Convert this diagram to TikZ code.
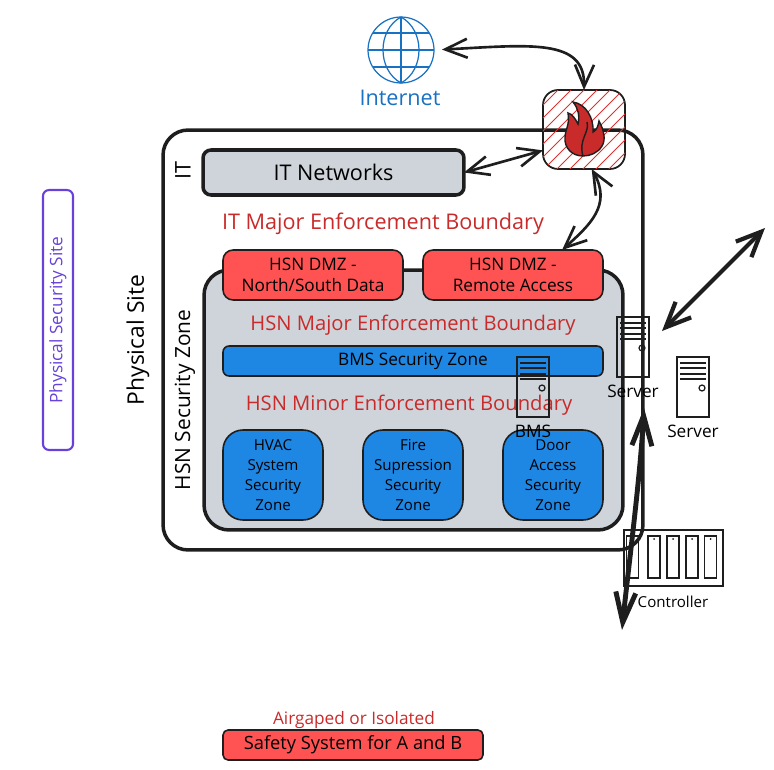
\documentclass[tikz,border=0pt]{standalone}
\usepackage{fontspec}
\setmainfont{Open Sans}
\usetikzlibrary{arrows.meta}
\definecolor{inkdark}{HTML}{1E1E1E}
\definecolor{zonegrey}{HTML}{CED4DA}
\definecolor{dmzred}{HTML}{FF5252}
\definecolor{zoneblue}{HTML}{1E86E3}
\definecolor{textred}{HTML}{C92A2A}
\definecolor{hatchred}{HTML}{E03131}
\definecolor{netblue}{HTML}{1971C2}
\definecolor{sitepurple}{HTML}{6741D9}
\tikzset{
  basebox/.style={draw=inkdark, inner sep=0pt, outer sep=0pt},
  dmzbox/.style={basebox, fill=dmzred, line width=0.9pt, rounded corners=0.2cm,
    minimum width=3.6cm, minimum height=1cm, align=center, widetext},
  bluebox/.style={basebox, fill=zoneblue, line width=0.9pt, rounded corners=0.4cm,
    minimum width=2cm, minimum height=1.8cm, align=center, smalltext},
  smalltext/.style={font=\fontsize{8.6}{11.3}\selectfont, text=black},
  widetext/.style={font=\fontsize{9.8}{11.6}\selectfont, text=black},
  bigtext/.style={font=\fontsize{12.3}{14}\selectfont, text=black},
  boundary/.style={font=\fontsize{11.5}{14}\selectfont, text=textred},
  link/.style={draw=inkdark, line width=1.5pt, {Straight Barb[length=4.4mm,width=3.8mm]}-{Straight Barb[length=4.4mm,width=3.8mm]}},
  wanlink/.style={draw=inkdark, line width=2.4pt, {Straight Barb[length=5mm,width=4.4mm]}-{Straight Barb[length=5mm,width=4.4mm]}},
  trunklink/.style={draw=inkdark, line width=2.8pt, {Straight Barb[length=6mm,width=4mm]}-{Straight Barb[length=6mm,width=4mm]}},
  rackline/.style={draw=inkdark, line width=0.7pt},
}
\begin{document}
\begin{tikzpicture}[x=0.02cm, y=-0.02cm]
  \useasboundingbox (0,0) rectangle (774,770);

  % physical site and zones
  \node[basebox, line width=2pt, rounded corners=0.5cm, minimum width=9.6cm, minimum height=8.4cm] (site) at (403,340) {};
  \node[basebox, fill=zonegrey, line width=2pt, rounded corners=0.16cm, minimum width=5.22cm, minimum height=0.9cm, bigtext] (itnet) at (333.5,172.5) {IT Networks};
  \node[basebox, fill=zonegrey, line width=2pt, rounded corners=0.5cm, minimum width=8.38cm, minimum height=5.2cm] (hsn) at (413.5,400) {};
  \node[dmzbox] (dmza) at (313,275) {HSN DMZ -\\North/South Data};
  \node[dmzbox] (dmzb) at (513,275) {HSN DMZ -\\Remote Access};
  \node[basebox, fill=zoneblue, line width=0.9pt, rounded corners=0.12cm, minimum width=7.6cm, minimum height=0.6cm, widetext] (bms) at (413,361) {BMS Security Zone};
  \node[bluebox] (hvac) at (273,475) {HVAC\\System\\Security\\Zone};
  \node[bluebox] (fire) at (413,475) {Fire\\Supression\\Security\\Zone};
  \node[bluebox] (door) at (553,475) {Door\\Access\\Security\\Zone};

  % zone labels
  \node[bigtext, rotate=90] (itlab) at (183,171) {IT};
  \node[bigtext, rotate=90, font=\fontsize{13}{15}\selectfont] (sitelab) at (138,340) {Physical Site};
  \node[bigtext, rotate=90, font=\fontsize{11.9}{14}\selectfont] (hsnlab) at (185,400) {HSN Security Zone};
  \node[boundary, font=\fontsize{12.3}{14}\selectfont] (itbound) at (383,224) {IT Major Enforcement Boundary};
  \node[boundary] (hsnmajor) at (413,325) {HSN Major Enforcement Boundary};
  \node[boundary] (hsnminor) at (409,405) {HSN Minor Enforcement Boundary};

  % physical security site
  \node[draw=sitepurple, line width=1.2pt, rounded corners=0.12cm, inner sep=0pt, minimum width=0.6cm, minimum height=5.2cm] (physsec) at (58,320) {};
  \node[widetext, text=sitepurple, rotate=90] (physlab) at (58,320) {Physical Security Site};

  % globe
  \node[circle, draw=netblue, line width=0.7pt, inner sep=0pt, outer sep=0pt, minimum size=1.32cm] (globe) at (401,50) {};
  \draw[netblue, line width=0.7pt] (401,17) -- (401,83);
  \draw[netblue, line width=0.7pt] (368,50) -- (434,50);
  \draw[netblue, line width=0.7pt] (373,33) -- (429,33);
  \draw[netblue, line width=0.7pt] (373,67) -- (429,67);
  \draw[netblue, line width=0.7pt] (401,17) .. controls (377,30) and (377,70) .. (401,83);
  \draw[netblue, line width=0.7pt] (401,17) .. controls (425,30) and (425,70) .. (401,83);
  \node[bigtext, text=netblue] (netlab) at (400,98) {Internet};

  % firewall with hatching
  \node[basebox, line width=1pt, rounded corners=0.3cm, minimum width=1.64cm, minimum height=1.58cm] (firewall) at (584,129.5) {};
  \begin{scope}
    \clip[rounded corners=0.3cm] (firewall.south west) rectangle (firewall.north east);
    \foreach \hx in {465,478,...,630} {
      \draw[hatchred, line width=0.5pt] (\hx,170) -- (\hx+80,90);
    }
  \end{scope}
  \fill[textred, draw=inkdark, line width=0.8pt] (583,156)
    .. controls (572,156) and (564,148) .. (565,137)
    .. controls (565,130) and (570,125) .. (568,113)
    .. controls (572,114) and (575,118) .. (578,124)
    .. controls (580,116) and (578,108) .. (573,102)
    .. controls (586,104) and (594,118) .. (593,132)
    .. controls (597,130) and (598,126) .. (599,121)
    .. controls (604,130) and (606,140) .. (602,146)
    .. controls (598,153) and (590,156) .. (583,156);
  \draw[inkdark, line width=0.8pt] (587,122) .. controls (590,132) and (578,140) .. (583,156);

  % server icons
  \foreach \sname/\sx/\sy/\slab in {srva/633/347/Server, srvb/693/387/Server, srvc/533/387/BMS} {
    \node[draw=inkdark, line width=0.7pt, inner sep=0pt, outer sep=0pt, minimum width=0.64cm, minimum height=1.2cm] (\sname) at (\sx,\sy) {};
    \foreach \ly in {-24,-19,-13,-8} {
      \draw[rackline, line width=1pt] (\sx-13,\sy+\ly) -- (\sx+13,\sy+\ly);
    }
    \draw[rackline] (\sx+9,\sy+1) circle (3);
    \node[widetext] (\sname lab) at (\sx,\sy+44) {\slab};
  }

  % controller rack
  \node[draw=inkdark, line width=0.7pt, inner sep=0pt, outer sep=0pt, minimum width=1.98cm, minimum height=1.12cm] (rack) at (673.5,558) {};
  \foreach \cx in {632.5,654,673,692,710.5} {
    \draw[rackline] (\cx-6,536) rectangle (\cx+6,578);
    \fill[inkdark] (\cx,539) circle (1);
  }
  \node[smalltext] (racklab) at (673,602) {Controller};

  % connectors
  \draw[link, shorten <=1.6mm] (globe.east) .. controls (530,45) and (585,38) .. (firewall.north);
  \draw[link] (itnet.east) -- (firewall.207);
  \draw[link] (firewall.-79) .. controls (612,205) and (590,225) .. (dmzb.27);
  \coordinate (wana) at (765,228);
  \coordinate (wanb) at (662,331);
  \draw[wanlink] (wana) -- (wanb);
  \coordinate (trunka) at (644,408);
  \coordinate (trunkb) at (622,630);
  \draw[trunklink] (trunka) .. controls (640,480) and (628,570) .. (trunkb);

  % safety system
  \node[widetext, text=textred] (airlab) at (354,720) {Airgaped or Isolated};
  \node[basebox, fill=dmzred, line width=0.9pt, rounded corners=0.1cm, minimum width=5.2cm, minimum height=0.6cm, font=\fontsize{10.4}{12}\selectfont] (safety) at (353,745) {Safety System for A and B};
\end{tikzpicture}
\end{document}
